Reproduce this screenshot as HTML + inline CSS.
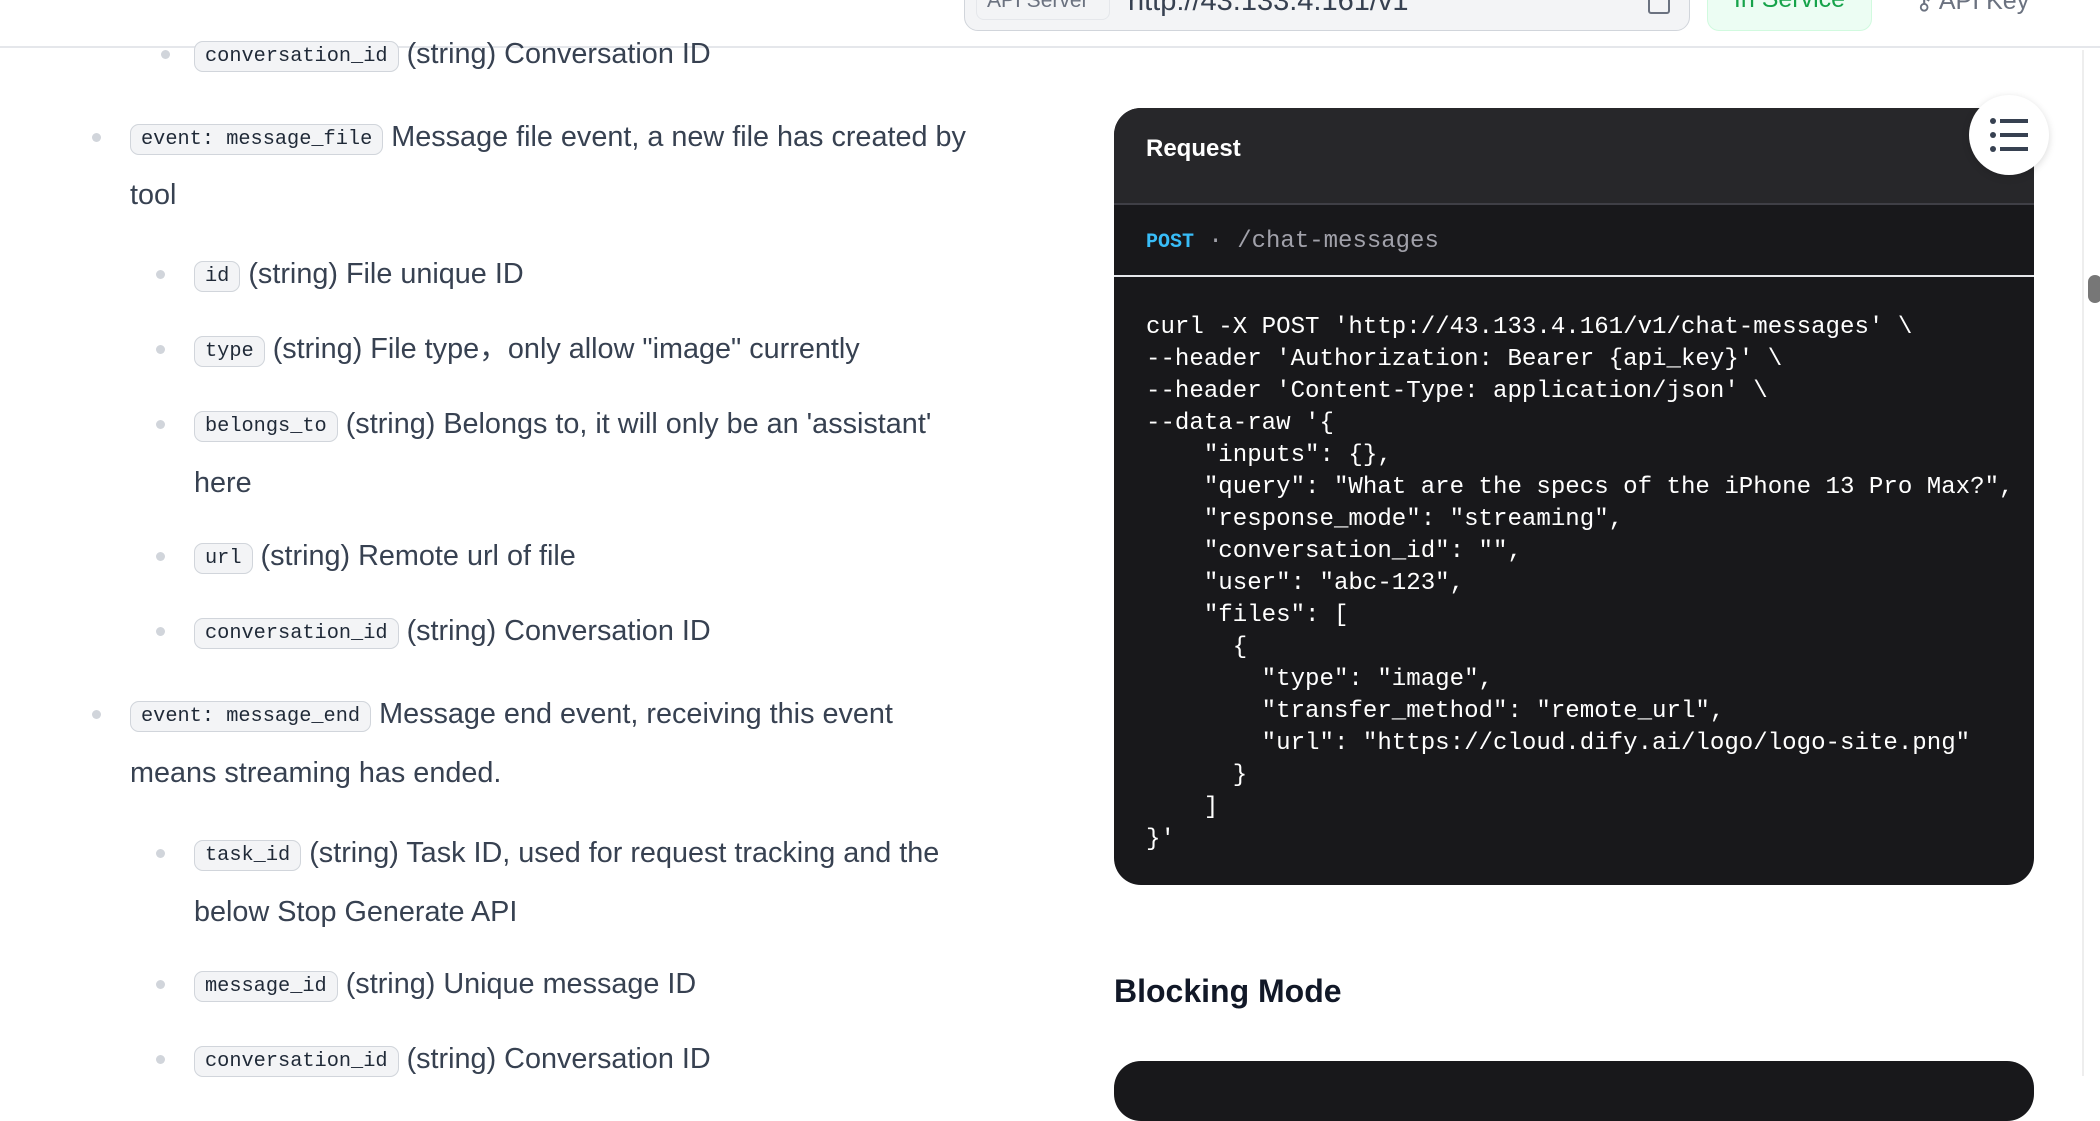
<!DOCTYPE html>
<html><head><meta charset="utf-8"><style>
*{margin:0;padding:0;box-sizing:border-box}
body{width:2100px;height:1076px;overflow:hidden;background:#fff;position:relative;font-family:"Liberation Sans",sans-serif;color:#374151}
.l{position:absolute;height:40px;line-height:40px;font-size:28.8px;white-space:nowrap}
.b{position:absolute;width:9px;height:9px;border-radius:50%;background:#d1d5db}
code{font-family:"Liberation Mono",monospace;font-size:20.3px;color:#1f2937;background:#f3f4f6;border:1.5px solid #d1d5db;border-radius:9px;padding:3px 10px;margin-right:8px;position:relative;top:-2px}
.card{position:absolute;left:1114px;top:108px;width:920px;height:777px;background:#18181b;border-radius:27px;overflow:hidden}
pre{font-family:"Liberation Mono",monospace;font-size:24.1px;line-height:32px;color:#fff}
</style></head><body>
<div style="position:absolute;left:0;top:0;width:2100px;height:48px;border-bottom:2px solid #e5e7eb;background:#fff"></div>
<div style="position:absolute;left:964px;top:-20px;width:726px;height:51px;background:#f3f4f6;border:1.5px solid #d1d5db;border-radius:14px"></div>
<div style="position:absolute;left:976px;top:-14px;width:134px;height:34px;border:1.5px solid #e5e7eb;border-radius:8px;font-size:21px;color:#6b7280;line-height:28px;padding-left:10px;white-space:nowrap">API Server</div>
<div style="position:absolute;left:1128px;top:-14px;font-size:29px;color:#374151;line-height:30px;white-space:nowrap">http://43.133.4.161/v1</div>
<div style="position:absolute;left:1648px;top:-10px;width:22px;height:24px;border:2.5px solid #6b7280;border-radius:3px"></div>
<div style="position:absolute;left:1707px;top:-20px;width:165px;height:51px;background:#ecfdf3;border:1.5px solid #d1fadf;border-radius:12px;color:#16a34a;font-size:25px;text-align:center;line-height:36px">In Service</div>
<div style="position:absolute;left:1915px;top:-14px;font-size:25px;color:#6b7280;line-height:30px;white-space:nowrap">⚷ API Key</div>
<div style="position:absolute;left:2082px;top:50px;width:2px;height:1026px;background:#eee"></div>
<div style="position:absolute;left:2088px;top:275px;width:14px;height:28px;border-radius:7px;background:#777"></div>

<div class="b" style="left:161px;top:50px"></div><div class="l" style="left:194px;top:34px"><code>conversation_id</code>(string) Conversation ID</div>
<div class="b" style="left:92px;top:133px"></div><div class="l" style="left:130px;top:117px"><code>event: message_file</code>Message file event, a new file has created by</div>
<div class="l" style="left:130px;top:175px">tool</div>
<div class="b" style="left:156px;top:270px"></div><div class="l" style="left:194px;top:254px"><code>id</code>(string) File unique ID</div>
<div class="b" style="left:156px;top:345px"></div><div class="l" style="left:194px;top:329px"><code>type</code>(string) File type，only allow "image" currently</div>
<div class="b" style="left:156px;top:420px"></div><div class="l" style="left:194px;top:404px"><code>belongs_to</code>(string) Belongs to, it will only be an 'assistant'</div>
<div class="l" style="left:194px;top:463px">here</div>
<div class="b" style="left:156px;top:552px"></div><div class="l" style="left:194px;top:536px"><code>url</code>(string) Remote url of file</div>
<div class="b" style="left:156px;top:627px"></div><div class="l" style="left:194px;top:611px"><code>conversation_id</code>(string) Conversation ID</div>
<div class="b" style="left:92px;top:710px"></div><div class="l" style="left:130px;top:694px"><code>event: message_end</code>Message end event, receiving this event</div>
<div class="l" style="left:130px;top:753px">means streaming has ended.</div>
<div class="b" style="left:156px;top:849px"></div><div class="l" style="left:194px;top:833px"><code>task_id</code>(string) Task ID, used for request tracking and the</div>
<div class="l" style="left:194px;top:892px">below Stop Generate API</div>
<div class="b" style="left:156px;top:980px"></div><div class="l" style="left:194px;top:964px"><code>message_id</code>(string) Unique message ID</div>
<div class="b" style="left:156px;top:1055px"></div><div class="l" style="left:194px;top:1039px"><code>conversation_id</code>(string) Conversation ID</div>

<div class="card">
<div style="position:absolute;left:0;top:0;width:920px;height:97px;background:#27272a;border-bottom:2px solid #3f3f46"></div>
<div style="position:absolute;left:32px;top:27px;font-size:24px;font-weight:bold;color:#fff;line-height:28px">Request</div>
<div style="position:absolute;left:32px;top:120px;font-family:'Liberation Mono',monospace;font-size:24px;line-height:28px;color:#a1a1aa"><span style="color:#38bdf8;font-weight:bold;font-size:20px">POST</span> · /chat-messages</div>
<div style="position:absolute;left:0;top:167px;width:920px;height:2px;background:#e5e7eb"></div>
<pre style="position:absolute;left:32px;top:204px">curl -X POST 'http://43.133.4.161/v1/chat-messages' \
--header 'Authorization: Bearer {api_key}' \
--header 'Content-Type: application/json' \
--data-raw '{
    "inputs": {},
    "query": "What are the specs of the iPhone 13 Pro Max?",
    "response_mode": "streaming",
    "conversation_id": "",
    "user": "abc-123",
    "files": [
      {
        "type": "image",
        "transfer_method": "remote_url",
        "url": "https://cloud.dify.ai/logo/logo-site.png"
      }
    ]
}'</pre>
</div>
<div style="position:absolute;left:1969px;top:95px;width:80px;height:80px;border-radius:50%;background:#fff;box-shadow:0 2px 8px rgba(0,0,0,.15)"></div>
<svg style="position:absolute;left:1990px;top:117px" width="40" height="36" viewBox="0 0 40 36"><g fill="#374151"><circle cx="3" cy="4" r="3"/><circle cx="3" cy="18" r="3"/><circle cx="3" cy="32" r="3"/><rect x="10" y="2" width="28" height="4"/><rect x="10" y="16" width="28" height="4"/><rect x="10" y="30" width="28" height="4"/></g></svg>

<div style="position:absolute;left:1114px;top:972px;font-size:32px;font-weight:bold;color:#111827;line-height:38px">Blocking Mode</div>
<div style="position:absolute;left:1114px;top:1061px;width:920px;height:60px;background:#18181b;border-radius:27px"></div>
</body></html>
